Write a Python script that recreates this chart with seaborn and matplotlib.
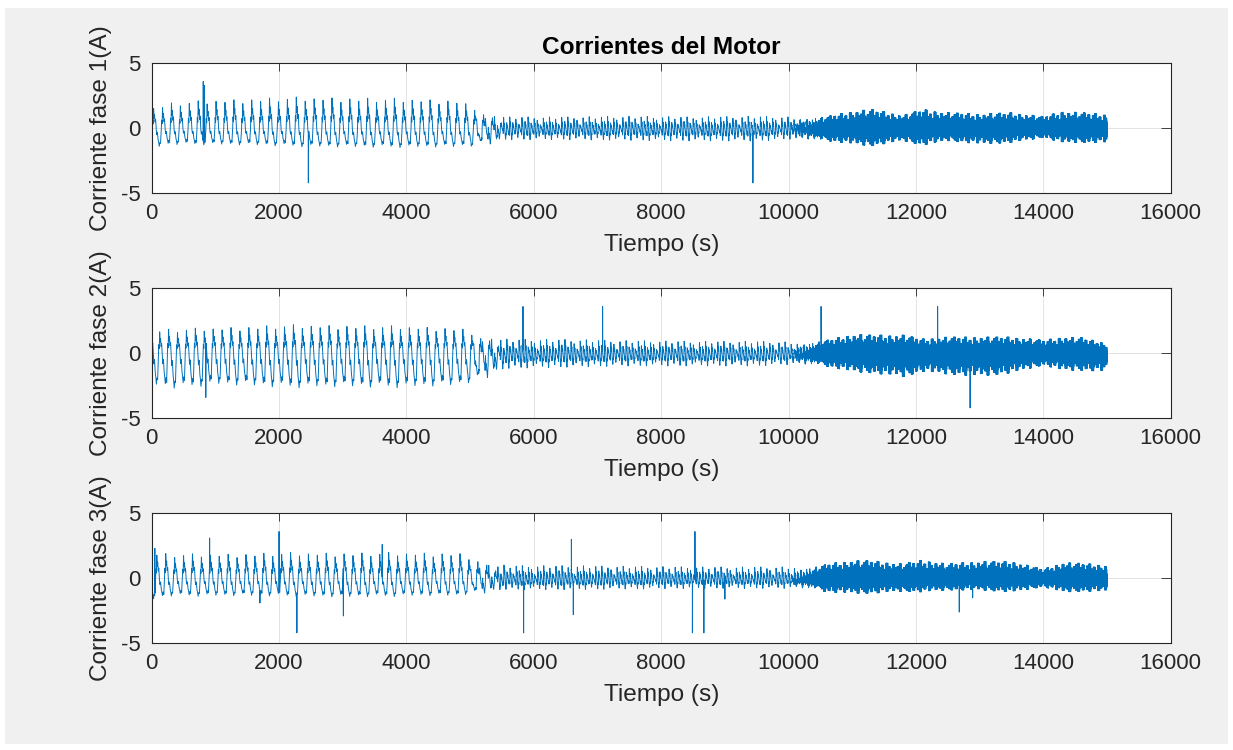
import numpy as np
import pandas as pd
import matplotlib
matplotlib.use("Agg")
import matplotlib.pyplot as plt
from matplotlib.patches import Rectangle
import seaborn as sns

# ---------------------------------------------------------------- data
title = "Corrientes del Motor"
x_label = "Tiempo (s)"
y_labels = ["Corriente fase 1(A)", "Corriente fase 2(A)", "Corriente fase 3(A)"]
x_ticks = [0, 2000, 4000, 6000, 8000, 10000, 12000, 14000, 16000]
y_ticks = [-5, 0, 5]
t_end = 15000

# one slow cycle (fraction of period -> normalised level)
slow_period = 140
slow_phase = [0.00, 0.06, 0.12, 0.17, 0.22, 0.27, 0.32, 0.38, 0.44, 0.50,
              0.57, 0.64, 0.71, 0.78, 0.85, 0.92, 1.00]
slow_shape = [-0.85, -0.3, 0.4, 0.2, 1.0, 0.5, 0.7, 0.3, 0.45, 0.0,
              -0.35, -0.2, -0.6, -0.75, -1.0, -0.8, -0.85]
slow_gain = [1.0, 0.93, 1.04, 0.9, 0.98, 1.06, 0.92, 1.0, 0.95, 1.03, 0.88]

# one mid-section cycle
mid_period = 48
mid_phase = [0.0, 0.12, 0.25, 0.38, 0.50, 0.62, 0.78, 0.90, 1.0]
mid_shape = [-0.6, 1.0, 0.2, 0.55, -0.1, -0.5, -1.0, -0.4, -0.6]
mid_gain = [1.0, 0.5, 0.8, 0.35, 0.95, 0.6, 1.0, 0.45, 0.85, 0.7, 0.3, 0.9, 0.55]

# fast ripple of the last section (one value per sample), gain held per block
dense_shape = [1.0, -0.3, -1.0, 0.5, 0.2, -0.8, 0.7]
dense_block = 35
dense_gain = [1.0, 0.7, 0.9, 0.6, 0.85, 1.0, 0.65, 0.8, 0.55, 0.95,
              0.75, 0.6, 0.9, 0.7, 0.8, 1.0, 0.6, 0.75, 0.9]

# envelope knots (time) for each section
slow_t = [0, 300, 1000, 2000, 3000, 4000, 4800, 5100, 5400, 5600]
mid_t = [4900, 5200, 5500, 6500, 7500, 8500, 9500, 10000, 10300, 10600]
dense_t = [10000, 10300, 10600, 11000, 11300, 11800, 12100, 12500, 13000,
           13500, 14000, 14300, 14600, 15000]

# phase 1
f1_slow_hi = [1.5, 1.9, 2.1, 2.3, 2.3, 2.2, 2.1, 1.6, 0.6, 0.0]
f1_slow_lo = [-1.5, -1.2, -1.2, -1.3, -1.4, -1.4, -1.4, -1.2, -0.5, 0.0]
f1_mid_hi = [0.0, 0.5, 0.9, 0.9, 0.95, 0.9, 0.95, 0.9, 0.5, 0.0]
f1_mid_lo = [0.0, -0.5, -0.9, -0.9, -0.95, -1.0, -1.0, -0.9, -0.5, 0.0]
f1_dense_hi = [0.0, 0.45, 0.9, 1.3, 1.45, 1.0, 1.45, 1.2, 1.1, 1.2, 0.9, 1.3, 1.2, 1.05]
f1_dense_lo = [0.0, -0.45, -0.95, -1.2, -1.35, -0.95, -1.3, -0.95, -1.2, -1.1, -0.7, -1.1, -1.1, -1.1]
f1_spike_t = [0, 810, 830, 2460, 9440]
f1_spike_v = [-4.4, 3.6, 3.3, -4.2, -4.2]

# phase 2
f2_slow_hi = [1.8, 1.8, 1.9, 2.1, 2.1, 2.0, 1.9, 1.6, 0.6, 0.0]
f2_slow_lo = [-2.3, -2.6, -2.3, -2.5, -2.5, -2.5, -2.4, -1.9, -0.7, 0.0]
f2_mid_hi = [0.0, 0.7, 1.1, 1.1, 1.0, 0.95, 0.95, 0.9, 0.5, 0.0]
f2_mid_lo = [0.0, -0.8, -1.2, -1.1, -1.0, -1.0, -1.0, -0.9, -0.5, 0.0]
f2_dense_hi = [0.0, 0.45, 1.0, 1.45, 1.4, 1.4, 1.1, 1.25, 1.25, 1.25, 1.0, 1.25, 1.2, 0.75]
f2_dense_lo = [0.0, -0.45, -1.0, -1.4, -1.5, -1.8, -1.4, -1.6, -1.75, -1.5, -0.9, -1.3, -1.3, -1.4]
f2_spike_t = [0, 850, 5830, 7080, 10510, 12340, 12850]
f2_spike_v = [-4.3, -3.4, 3.6, 3.6, 3.6, 3.6, -4.2]

# phase 3
f3_slow_hi = [2.0, 1.8, 1.8, 1.9, 1.9, 1.9, 1.9, 1.5, 0.5, 0.0]
f3_slow_lo = [-1.6, -1.3, -1.3, -1.3, -1.4, -1.3, -1.3, -1.0, -0.4, 0.0]
f3_mid_hi = [0.0, 0.6, 1.0, 1.0, 0.95, 0.9, 0.9, 0.9, 0.5, 0.0]
f3_mid_lo = [0.0, -0.5, -0.9, -0.9, -0.85, -0.8, -0.8, -0.8, -0.4, 0.0]
f3_dense_hi = [0.0, 0.45, 1.1, 1.35, 1.35, 1.1, 1.4, 1.1, 1.3, 1.3, 0.7, 1.2, 1.15, 1.0]
f3_dense_lo = [0.0, -0.45, -1.05, -1.15, -1.15, -1.0, -1.05, -0.9, -0.9, -1.05, -0.65, -1.05, -1.0, -1.0]
f3_spike_t = [0, 50, 910, 1700, 2000, 2280, 3010, 3620, 5840, 6590, 6620,
              8490, 8530, 8670, 9000, 12680, 12890]
f3_spike_v = [-4.3, 2.3, 3.1, -1.9, 3.6, -4.2, -2.9, 2.6, -4.2, 3.0, -2.8,
              -4.2, 3.6, -4.2, -1.6, -2.6, -1.5]

phase_offsets = [0, 45, 90]


# ---------------------------------------------------------------- signal assembly
def cycle(t, period, phase_pts, shape_pts, gains):
    ph = (t % period) / period
    base = np.interp(ph, phase_pts, shape_pts)
    idx = (t // period).astype(int) % len(gains)
    return base * np.asarray(gains)[idx]


def scaled(w, t, knots, hi, lo):
    h = np.interp(t, knots, hi, left=0.0, right=0.0)
    l = np.interp(t, knots, lo, left=0.0, right=0.0)
    return np.where(w > 0, w * h, -w * l)


def build(offset, s_hi, s_lo, m_hi, m_lo, d_hi, d_lo, sp_t, sp_v):
    t = np.arange(0, t_end + 1)
    tt = t + offset
    slow = cycle(tt, slow_period, slow_phase, slow_shape, slow_gain)
    mid = cycle(tt, mid_period, mid_phase, mid_shape, mid_gain)
    didx = tt % len(dense_shape)
    dgain = np.asarray(dense_gain)[(tt // dense_block) % len(dense_gain)]
    dense = np.asarray(dense_shape)[didx] * dgain
    y = (scaled(slow, t, slow_t, s_hi, s_lo)
         + scaled(mid, t, mid_t, m_hi, m_lo)
         + scaled(dense, t, dense_t, d_hi, d_lo))
    y[np.asarray(sp_t)] = sp_v
    return t, y


series = [
    build(phase_offsets[0], f1_slow_hi, f1_slow_lo, f1_mid_hi, f1_mid_lo,
          f1_dense_hi, f1_dense_lo, f1_spike_t, f1_spike_v),
    build(phase_offsets[1], f2_slow_hi, f2_slow_lo, f2_mid_hi, f2_mid_lo,
          f2_dense_hi, f2_dense_lo, f2_spike_t, f2_spike_v),
    build(phase_offsets[2], f3_slow_hi, f3_slow_lo, f3_mid_hi, f3_mid_lo,
          f3_dense_hi, f3_dense_lo, f3_spike_t, f3_spike_v),
]

# ---------------------------------------------------------------- style
sns.set_style("white")
plt.rcParams["font.family"] = ["Liberation Sans", "DejaVu Sans"]

line_color = "#0072BD"
text_color = "#262626"
bg = "#f0f0f0"

fig = plt.figure(figsize=(12.33, 7.5), dpi=100, facecolor="white")
fig.patches.append(Rectangle((5 / 1233, 6 / 750), 1223 / 1233, 736 / 750,
                             transform=fig.transFigure, facecolor=bg,
                             edgecolor="none", zorder=-10))

ax_left, ax_w, ax_h = 0.1230, 0.8265, 0.1733
ax_bottoms = [0.7423, 0.4423, 0.1423]

for i, (t, y) in enumerate(series):
    ax = fig.add_axes([ax_left, ax_bottoms[i], ax_w, ax_h])
    ax.set_facecolor("white")
    df = pd.DataFrame({"t": t, "i": y})
    sns.lineplot(data=df, x="t", y="i", ax=ax, color=line_color,
                 linewidth=0.7, estimator=None, sort=False)
    ax.set_xlim(0, 16000)
    ax.set_ylim(-5, 5)
    ax.set_xticks(x_ticks)
    ax.set_yticks(y_ticks)
    ax.set_xticklabels([str(v) for v in x_ticks])
    ax.set_yticklabels([str(v) for v in y_ticks])
    ax.grid(True, color=text_color, alpha=0.15, linewidth=0.6)
    ax.set_axisbelow(True)
    for s in ax.spines.values():
        s.set_color(text_color)
        s.set_linewidth(0.8)
    ax.tick_params(axis="both", direction="in", top=True, right=True,
                   colors=text_color, labelcolor=text_color, width=0.6,
                   labelsize=16)
    ax.tick_params(axis="x", length=5.5, pad=7)
    ax.tick_params(axis="y", length=7.5, pad=8)
    ax.set_xlabel(x_label, fontsize=17.6, color=text_color, labelpad=7)
    ax.set_ylabel(y_labels[i], fontsize=17.6, color=text_color, labelpad=6)
    if i == 0:
        ax.set_title(title, fontsize=17.6, fontweight="bold", color="black",
                     pad=7)

fig.savefig("out.png", dpi=100, facecolor=fig.get_facecolor())
